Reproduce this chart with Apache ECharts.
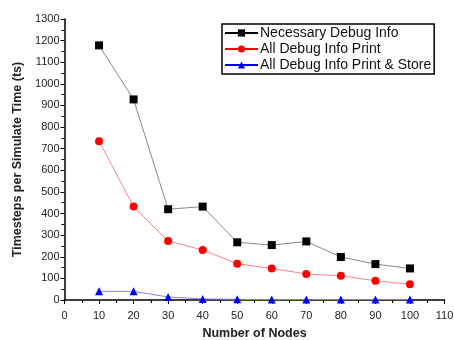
<!DOCTYPE html>
<html><head><meta charset="utf-8">
<script src="https://cdn.jsdelivr.net/npm/echarts@6/dist/echarts.min.js"></script>
<style>html,body{margin:0;padding:0;background:#fff}#c{width:454px;height:340px}</style>
</head><body><div id="c"></div>
<script>
const nodes = [10, 20, 30, 40, 50, 60, 70, 80, 90, 100];
const necessary = [1178, 928, 420, 432, 267, 254, 271, 199, 166, 146];
const allPrint = [735, 432, 273, 231, 168, 146, 120, 112, 89, 73];
const printStore = [40, 40, 14, 5, 3, 2, 2, 2, 2, 2];
const seriesNames = ['Necessary Debug Info', 'All Debug Info Print', 'All Debug Info Print & Store'];

const font = "'Liberation Sans', Arial, sans-serif";
const chart = echarts.init(document.getElementById('c'));
function mk(name, vals, color, lineColor, symbol, size) {
  return {
    name, type: 'line', data: nodes.map((n, i) => [n, vals[i]]),
    symbol, symbolSize: size, itemStyle: { color },
    lineStyle: { color: lineColor, width: 1 }, animation: false
  };
}
chart.setOption({
  animation: false,
  grid: { left: 64.5, right: 9.5, top: 19, bottom: 40, containLabel: false, outerBoundsMode: 'none' },
  legend: {
    left: 222, top: 24, orient: 'vertical', itemGap: 2, itemWidth: 33, itemHeight: 9,
    borderColor: '#000', borderWidth: 1.5, padding: [2, 3, 2, 2],
    textStyle: { fontFamily: font, fontSize: 14, color: '#111', padding: [0, 0, 0, -3] },
    data: seriesNames.map((n, i) => ({ name: n, itemStyle: { color: ['#000', '#f00', '#00f'][i] }, lineStyle: { color: ['#000', '#f00', '#00f'][i] } }))
  },
  xAxis: {
    type: 'value', min: 0, max: 110, interval: 10,
    name: 'Number of Nodes', nameLocation: 'middle', nameGap: 27,
    nameTextStyle: { fontFamily: font, fontSize: 12.5, fontWeight: 'bold', color: '#222' },
    axisLine: { lineStyle: { color: '#000', width: 1.5 } },
    axisTick: { inside: false, length: 4, lineStyle: { color: '#000' } },
    minorTick: { show: true, splitNumber: 2, length: 3, lineStyle: { color: '#000' } },
    axisLabel: { fontFamily: font, fontSize: 11, color: '#222', margin: 10 },
    splitLine: { show: false }
  },
  yAxis: {
    type: 'value', min: 0, max: 1300, interval: 100,
    name: 'Timesteps per Simulate Time (ts)', nameLocation: 'middle', nameGap: 40,
    nameTextStyle: { fontFamily: font, fontSize: 12.5, fontWeight: 'bold', color: '#222' },
    axisLine: { show: true, lineStyle: { color: '#000', width: 1.5 } },
    axisTick: { show: true, inside: false, length: 4, lineStyle: { color: '#000' } },
    minorTick: { show: true, splitNumber: 2, length: 3, lineStyle: { color: '#000' } },
    axisLabel: { fontFamily: font, fontSize: 11, color: '#222', margin: 5, formatter: v => String(v) },
    splitLine: { show: false }
  },
  series: [
    mk(seriesNames[0], necessary, '#000', '#888', 'rect', 8),
    mk(seriesNames[1], allPrint, '#f00', '#ff8080', 'circle', 8),
    mk(seriesNames[2], printStore, '#00f', '#8080ff', 'triangle', 8)
  ]
});
</script></body></html>
